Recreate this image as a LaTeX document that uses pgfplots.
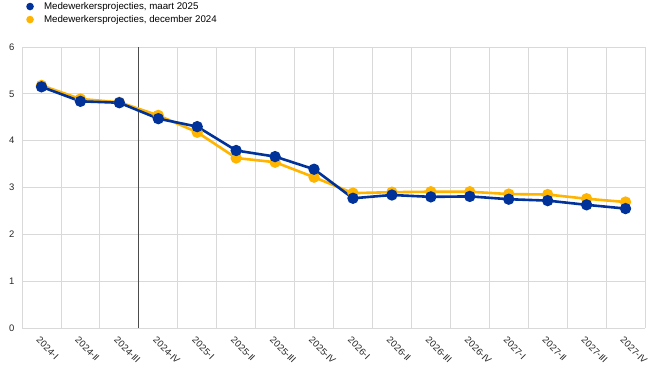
\documentclass[border=0pt]{standalone}
\usepackage{pgfplots}
\pgfplotsset{compat=1.18}
\usepackage{fontspec}
\setmainfont{Liberation Sans}
\definecolor{ecbblue}{HTML}{003299}
\definecolor{ecbyellow}{HTML}{FFB400}
\definecolor{gridgray}{HTML}{D9D9D9}
\begin{document}
\begin{tikzpicture}
\path[use as bounding box] (-22bp,-44bp) rectangle (636bp,328bp);
\begin{axis}[
  at={(0,0)}, anchor=south west,
  scale only axis,
  width=623bp, height=281bp,
  xmin=-0.5, xmax=15.5,
  ymin=0, ymax=6,
  ytick={0,1,...,6},
  xtick={0,1,...,15},
  xticklabels={2024-I,2024-II,2024-III,2024-IV,2025-I,2025-II,2025-III,2025-IV,2026-I,2026-II,2026-III,2026-IV,2027-I,2027-II,2027-III,2027-IV},
  minor xtick={-0.5,0.5,...,15.5},
  xminorgrids=true,
  ymajorgrids=true,
  grid style={gridgray, line width=0.8bp},
  minor grid style={gridgray, line width=0.8bp},
  axis line style={draw=none},
  major tick length=0pt, minor tick length=0pt,
  tick style={draw=none},
  /pgf/number format/assume math mode=true,
  ticklabel style={font=\fontsize{9.5}{11}\selectfont, text=black!85},
  xticklabel style={anchor=north west, inner sep=0pt, xshift=-1bp, yshift=-8bp, rotate=-45},
  yticklabel style={xshift=-4bp},
  legend style={at={(0.0065,1.167)}, anchor=north west, draw=none, fill=none,
    font=\fontsize{9.75}{11}\selectfont, row sep=0.5bp, inner sep=0pt,
    nodes={inner sep=2bp}},
  legend cell align=left,
  legend image code/.code={\path[draw=none,fill=none] (-3.8bp,0) rectangle (12bp,0); \fill[#1, draw=none] (0,0) circle (3.8bp);},
  clip=false,
]
\addlegendimage{ecbblue}
\addlegendentry{Medewerkersprojecties, maart 2025}
\addlegendimage{ecbyellow}
\addlegendentry{Medewerkersprojecties, december 2024}
\draw[black!70, line width=1bp] (axis cs:2.5,0) -- (axis cs:2.5,6);
\addplot[forget plot, color=ecbyellow, line width=2.6bp, mark=*, mark size=4.3bp, mark options={fill=ecbyellow, draw=ecbyellow}]
coordinates {(0,5.18)(1,4.89)(2,4.82)(3,4.54)(4,4.18)(5,3.63)(6,3.54)(7,3.22)(8,2.88)(9,2.90)(10,2.91)(11,2.91)(12,2.86)(13,2.85)(14,2.76)(15,2.69)};
\addplot[forget plot, color=ecbblue, line width=2.6bp, mark=*, mark size=4.3bp, mark options={fill=ecbblue, draw=ecbblue}]
coordinates {(0,5.15)(1,4.84)(2,4.81)(3,4.47)(4,4.30)(5,3.79)(6,3.66)(7,3.39)(8,2.77)(9,2.84)(10,2.80)(11,2.81)(12,2.75)(13,2.72)(14,2.63)(15,2.55)};
\end{axis}
\end{tikzpicture}
\end{document}
